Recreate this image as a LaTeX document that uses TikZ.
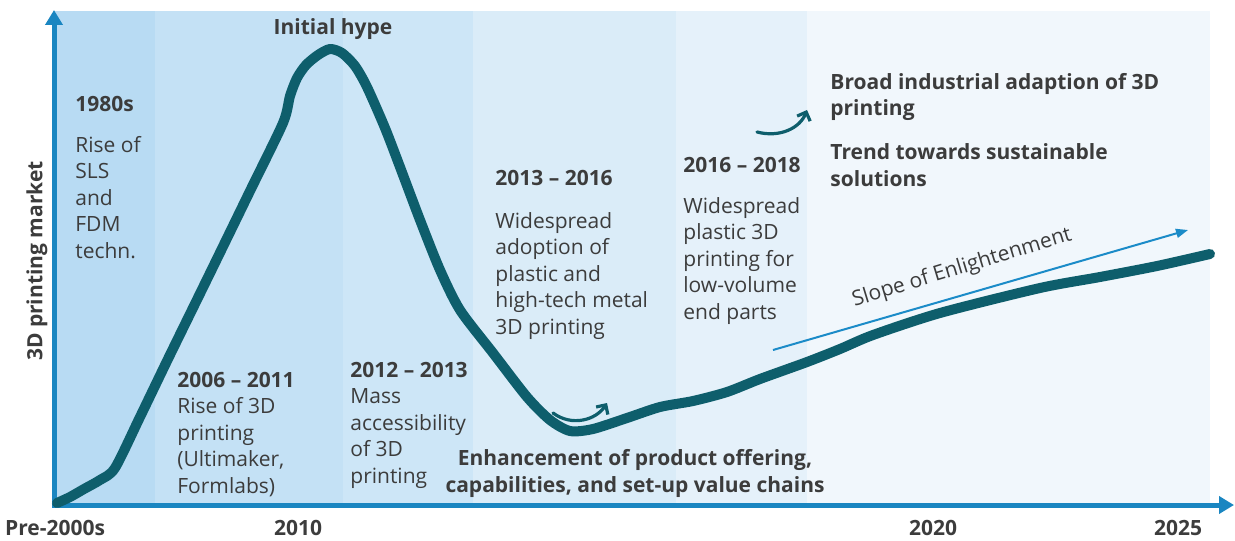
\documentclass[tikz,border=0pt]{standalone}
\usepackage{fontspec}
\setmainfont{Open Sans}
\usetikzlibrary{arrows.meta}
\definecolor{axisblue}{HTML}{1A86C1}
\definecolor{slopeblue}{HTML}{1B8BC8}
\definecolor{curveteal}{HTML}{0E5E6C}
\definecolor{txtgray}{HTML}{3C3C3C}
\definecolor{bandA}{HTML}{B8DBF3}
\definecolor{bandB}{HTML}{C4E1F5}
\definecolor{bandC}{HTML}{CDE6F7}
\definecolor{bandD}{HTML}{DAECF8}
\definecolor{bandE}{HTML}{E5F1FA}
\definecolor{bandF}{HTML}{F1F7FC}
\begin{document}
\begin{tikzpicture}[x=0.5pt,y=-0.5pt,
  lbl/.style={text=txtgray, font=\fontsize{10.5}{13.25}\selectfont, inner sep=0pt, align=left, anchor=base west},
  head/.style={lbl, font=\fontsize{10.5}{13.25}\selectfont\bfseries},
  ticklbl/.style={text=txtgray, font=\fontsize{10.5}{13}\selectfont\bfseries, inner sep=0pt, anchor=base},
  axisline/.style={draw=axisblue, line width=2.5pt, -{Triangle[length=7.5pt,width=8.5pt]}},
  hypecurve/.style={draw=curveteal, line width=5pt, line cap=round, line join=round},
  turnarrow/.style={draw=curveteal, line width=1.6pt, line cap=round, -{Straight Barb[length=3.5pt,width=7pt]}},
  slopearrow/.style={draw=slopeblue, line width=1pt, -{Triangle[length=6pt,width=4.5pt]}}
]
\useasboundingbox (0,0) rectangle (1235,540);
\fill[white] (0,0) rectangle (1235,540);
% background bands
\fill[bandA] (55,11) rectangle (155,505);
\fill[bandB] (155,11) rectangle (343,505);
\fill[bandC] (343,11) rectangle (473,505);
\fill[bandD] (473,11) rectangle (676,505);
\fill[bandE] (676,11) rectangle (807,505);
\fill[bandF] (807,11) rectangle (1210,505);

% axes
\coordinate (origin) at (54,505);
\coordinate (ytip) at (54,10);
\coordinate (xtip) at (1234,505);
\draw[axisline] ([yshift=-1.25pt]origin) -- (ytip);
\draw[axisline] ([xshift=-1.25pt]origin) -- (xtip);

% hype curve
\draw[hypecurve] plot[smooth, tension=0.45] coordinates {
 (57,503) (70,497) (84,489) (100,480) (115,468) (140,417) (167,361) (190,314)
 (213,267) (250,191) (283,123) (290,96) (297,78) (306,65) (318,55) (330,49)
 (342,53) (355,66) (367,87) (385,128) (400,167) (420,220) (440,270) (460,310)
 (493,353) (527,397) (550,420) (570,431) (593,429) (627,418) (660,407)
 (693,401) (727,392) (760,379) (807,362) (840,349) (873,335) (940,313)
 (1040,288) (1100,277) (1157,266) (1210,254)};

% small turning arrows
\coordinate (t1s) at (553,413);
\coordinate (t1e) at (607,403);
\draw[turnarrow] (t1s) .. controls (572,427) and (596,420) .. (t1e);
\coordinate (t2s) at (757,132);
\coordinate (t2e) at (807,110);
\draw[turnarrow] (t2s) .. controls (780,138) and (800,128) .. (t2e);

% slope arrow
\coordinate (s1) at (773,350);
\coordinate (s2) at (1188,230);
\draw[slopearrow] (s1) -- (s2);
\node[text=txtgray, font=\fontsize{10.5}{13}\selectfont, inner sep=0pt, rotate=17] (slope) at (962,268) {Slope of Enlightenment};

% axis labels
\node[text=txtgray, font=\fontsize{10.5}{13}\selectfont\bfseries, inner sep=0pt, rotate=90] (ylab) at (37,261) {3D printing market};
\node[ticklbl] (pre) at (55,535) {Pre-2000s};
\node[ticklbl] (t2010) at (298,535) {2010};
\node[ticklbl] (t2020) at (933,535) {2020};
\node[ticklbl] (t2025) at (1178,535) {2025};

% texts (multi-line nodes are anchored at the baseline of their last line)
\node[ticklbl] (hype) at (333,35) {Initial hype};
\node[head] (h1980) at (75,112) {1980s};
\node[lbl] (b1980) at (75,258) {Rise of\\SLS\\and\\FDM\\techn.};
\node[lbl] (b2006) at (177,493) {\textbf{2006 – 2011}\\Rise of 3D\\printing\\(Ultimaker,\\Formlabs)};
\node[lbl] (b2012) at (350,483) {\textbf{2012 – 2013}\\Mass\\accessibility\\of 3D\\printing};
\node[head] (h2013) at (495,185) {2013 – 2016};
\node[lbl] (b2013) at (495,334) {Widespread\\adoption of\\plastic and\\high-tech metal\\3D printing};
\node[head] (h2016) at (683,172) {2016 – 2018};
\node[lbl] (b2016) at (683,319) {Widespread\\plastic 3D\\printing for\\low-volume\\end parts};
\node[head] (broad) at (830,116) {Broad industrial adaption of 3D\\printing};
\node[head] (trend) at (830,186) {Trend towards sustainable\\solutions};
\node[head, align=center, anchor=base] (enh) at (635,492) {Enhancement of product offering,\\capabilities, and set-up value chains};
\end{tikzpicture}
\end{document}
